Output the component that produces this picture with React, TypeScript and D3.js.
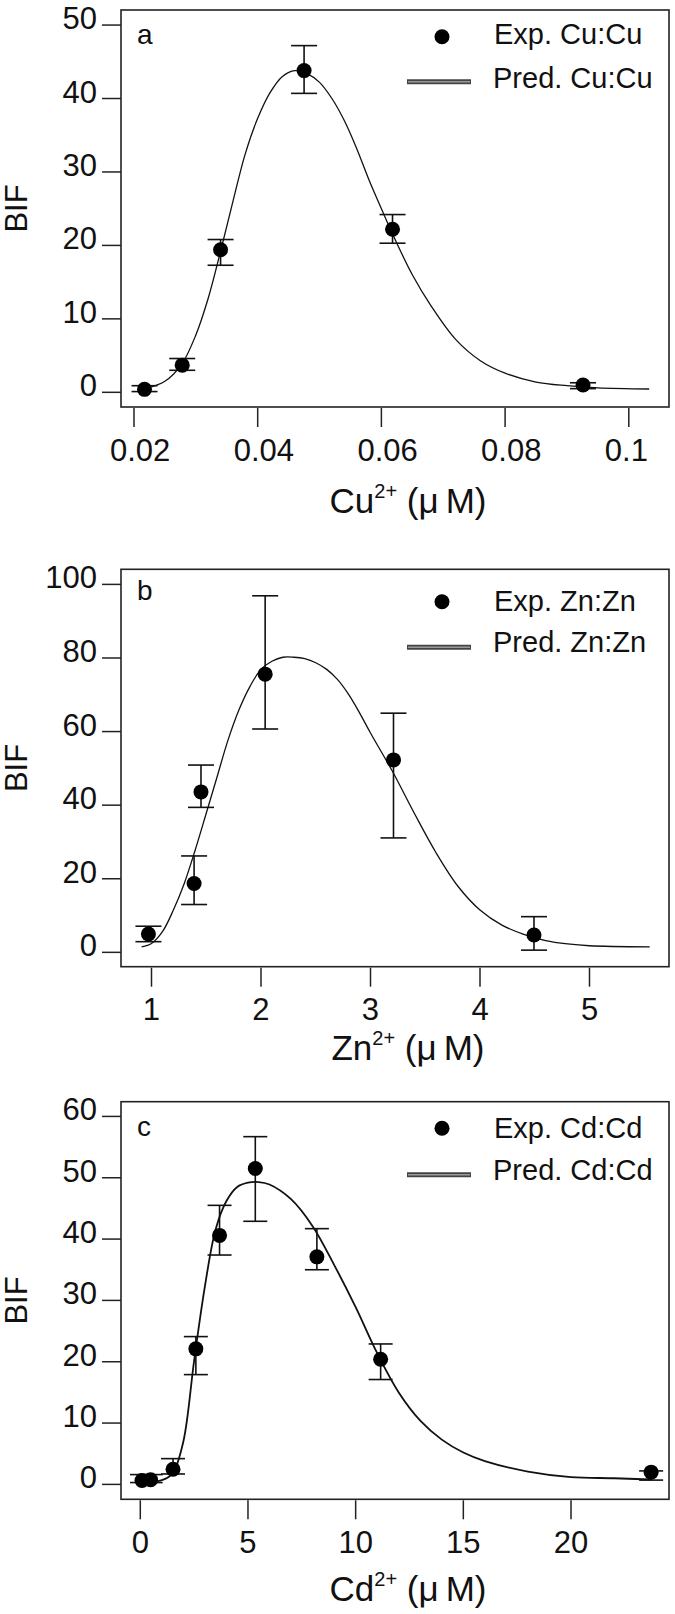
import React from 'react';
import * as d3 from 'd3';

// ---------- Panel a : Cu ----------
const cuX = [0.0217, 0.0278, 0.034, 0.0475, 0.0618, 0.0926];
const cuY = [0.4, 3.7, 19.4, 43.8, 22.2, 1.0];
const cuLo = [0.1, 3.0, 17.3, 40.7, 20.3, 0.5];
const cuHi = [0.9, 4.6, 20.8, 47.2, 24.2, 1.3];
const cuFitX = [0.0212, 0.0216, 0.025, 0.0277, 0.03, 0.032, 0.034, 0.036, 0.038, 0.04, 0.042, 0.044, 0.046, 0.048, 0.05, 0.052, 0.054, 0.056, 0.058, 0.06, 0.062, 0.065, 0.068, 0.072, 0.076, 0.08, 0.085, 0.09, 0.095, 0.1033];
const cuFitY = [0.3, 0.4, 1.5, 3.8, 7.8, 12.8, 19.2, 26.0, 32.5, 37.3, 40.8, 43.0, 43.8, 43.4, 42.2, 40.0, 37.0, 33.2, 28.9, 25.0, 21.2, 16.0, 11.8, 7.2, 4.3, 2.6, 1.4, 0.9, 0.6, 0.45];
const cuTicksX = [0.02, 0.04, 0.06, 0.08, 0.1];
const cuTickLabelsX = ['0.02', '0.04', '0.06', '0.08', '0.1'];
const cuTicksY = [0, 10, 20, 30, 40, 50];

// ---------- Panel b : Zn ----------
const znX = [0.972, 1.389, 1.452, 2.038, 3.21, 4.493];
const znY = [5.0, 18.7, 43.6, 75.6, 52.3, 4.7];
const znLo = [2.9, 13.0, 39.4, 60.7, 31.1, 0.6];
const znHi = [7.1, 26.2, 50.9, 96.9, 65.0, 9.7];
const znFitX = [0.91, 1.0, 1.1, 1.2, 1.3, 1.4, 1.5, 1.6, 1.7, 1.8, 1.9, 2.0, 2.1, 2.2, 2.3, 2.4, 2.5, 2.6, 2.7, 2.8, 2.9, 3.0, 3.2, 3.4, 3.6, 3.8, 4.0, 4.2, 4.4, 4.6, 4.8, 5.0, 5.55];
const znFitY = [1.5, 2.4, 5.6, 11.5, 18.8, 27.9, 37.8, 47.8, 57.8, 66.0, 72.3, 76.9, 79.1, 80.2, 80.2, 79.8, 78.7, 76.9, 74.1, 70.1, 65.1, 59.6, 49.2, 37.8, 27.0, 17.9, 11.5, 7.4, 4.9, 3.2, 2.3, 1.8, 1.5];
const znTicksX = [1, 2, 3, 4, 5];
const znTickLabelsX = ['1', '2', '3', '4', '5'];
const znTicksY = [0, 20, 40, 60, 80, 100];

// ---------- Panel c : Cd ----------
const cdX = [0.08, 0.48, 1.52, 2.58, 3.68, 5.34, 8.2, 11.16, 23.72];
const cdY = [0.63, 0.75, 2.48, 22.1, 40.6, 51.5, 37.1, 20.4, 2.0];
const cdLo = [0.3, 0.3, 1.7, 17.9, 37.4, 42.9, 35.0, 17.1, 0.7];
const cdHi = [1.6, 1.6, 4.2, 24.1, 45.5, 56.7, 41.7, 22.9, 2.2];
const cdFitX = [0.18, 1.0, 1.5, 2.0, 2.5, 3.0, 3.5, 4.0, 4.5, 5.0, 5.5, 6.0, 7.0, 8.0, 9.0, 10.0, 11.0, 12.0, 13.0, 14.0, 15.0, 16.0, 18.0, 20.0, 22.0, 23.7];
const cdFitY = [0.46, 0.7, 1.8, 7.0, 20.2, 32.3, 41.6, 46.2, 48.5, 49.2, 49.3, 48.9, 46.5, 42.1, 35.8, 28.9, 21.4, 15.0, 10.4, 7.3, 5.2, 3.8, 2.1, 1.2, 1.0, 0.8];
const cdTicksX = [0, 5, 10, 15, 20];
const cdTickLabelsX = ['0', '5', '10', '15', '20'];
const cdTicksY = [0, 10, 20, 30, 40, 50, 60];

const FONT = '"Liberation Sans", Arial, Helvetica, sans-serif';

type Panel = {
  letter: string; ion: string; expLabel: string; predLabel: string;
  x: number[]; y: number[]; lo: number[]; hi: number[];
  fitX: number[]; fitY: number[];
  ticksX: number[]; tickLabelsX: string[]; ticksY: number[];
  xDomain: [number, number]; yDomain: [number, number];
  top: number; bottom: number;
  capW: number; fitW: number;
  tickLabelStart: boolean;
  leg: { marker: number; exp: number; line: number; pred: number; letter: number };
  titleDy: number;
};

const panels: Panel[] = [
  {
    letter: 'a', ion: 'Cu', expLabel: 'Exp. Cu:Cu', predLabel: 'Pred. Cu:Cu',
    x: cuX, y: cuY, lo: cuLo, hi: cuHi, fitX: cuFitX, fitY: cuFitY,
    ticksX: cuTicksX, tickLabelsX: cuTickLabelsX, ticksY: cuTicksY,
    xDomain: [0.0179, 0.1065], yDomain: [-2.0, 52.05],
    top: 10, bottom: 407, capW: 13, fitW: 1.3, tickLabelStart: true,
    leg: { marker: 26.7, exp: 33.5, line: 71.7, pred: 78.3, letter: 34 },
    titleDy: 106,
  },
  {
    letter: 'b', ion: 'Zn', expLabel: 'Exp. Zn:Zn', predLabel: 'Pred. Zn:Zn',
    x: znX, y: znY, lo: znLo, hi: znHi, fitX: znFitX, fitY: znFitY,
    ticksX: znTicksX, tickLabelsX: znTickLabelsX, ticksY: znTicksY,
    xDomain: [0.7215, 5.726], yDomain: [-3.9, 104.1],
    top: 569.3, bottom: 966.7, capW: 13, fitW: 1.3, tickLabelStart: false,
    leg: { marker: 32.4, exp: 41.4, line: 78, pred: 82.4, letter: 30.7 },
    titleDy: 93.5,
  },
  {
    letter: 'c', ion: 'Cd', expLabel: 'Exp. Cd:Cd', predLabel: 'Pred. Cd:Cd',
    x: cdX, y: cdY, lo: cdLo, hi: cdHi, fitX: cdFitX, fitY: cdFitY,
    ticksX: cdTicksX, tickLabelsX: cdTickLabelsX, ticksY: cdTicksY,
    xDomain: [-0.896, 24.55], yDomain: [-2.43, 62.4],
    top: 1101.7, bottom: 1499.3, capW: 12, fitW: 1.8, tickLabelStart: false,
    leg: { marker: 26.5, exp: 36, line: 73, pred: 78.3, letter: 34.3 },
    titleDy: 102,
  },
];

const LEFT = 121;
const RIGHT = 669;

function PanelView({ p }: { p: Panel }) {
  const xs = d3.scaleLinear().domain(p.xDomain).range([LEFT, RIGHT]);
  const ys = d3.scaleLinear().domain(p.yDomain).range([p.bottom, p.top]);
  const line = d3.line<number>()
    .x((_, i) => xs(p.fitX[i]))
    .y((v) => ys(v))
    .curve(d3.curveCatmullRom.alpha(0.5));
  const path = line(p.fitY) || '';
  const midY = (p.top + p.bottom) / 2;
  const titleX = 408;
  return (
    <g>
      {/* frame */}
      <rect x={LEFT} y={p.top} width={RIGHT - LEFT} height={p.bottom - p.top}
        fill="none" stroke="#222" strokeWidth={1.6} />
      {/* y ticks */}
      {p.ticksY.map((t) => (
        <g key={'yt' + t}>
          <line x1={LEFT - 19} x2={LEFT} y1={ys(t)} y2={ys(t)} stroke="#222" strokeWidth={1.5} />
          <text x={LEFT - 24} y={ys(t) + 4} textAnchor="end" fontSize={31}
            fontFamily={FONT} fill="#111">{t}</text>
        </g>
      ))}
      {/* x ticks */}
      {p.ticksX.map((t, i) => (
        <g key={'xt' + t}>
          <line x1={xs(t)} x2={xs(t)} y1={p.bottom + 1} y2={p.bottom + 20} stroke="#222" strokeWidth={1.5} />
          <text x={p.tickLabelStart ? xs(t) - 24 : xs(t)} y={p.bottom + 53.5}
            textAnchor={p.tickLabelStart ? 'start' : 'middle'} fontSize={31}
            fontFamily={FONT} fill="#111">{p.tickLabelsX[i]}</text>
        </g>
      ))}
      {/* axis titles */}
      <text transform={`translate(27,${midY}) rotate(-90)`} textAnchor="middle"
        fontSize={31} fontFamily={FONT} fill="#111">BIF</text>
      <text x={titleX} y={p.bottom + p.titleDy} textAnchor="middle" fontSize={35}
        fontFamily={FONT} fill="#111">
        {p.ion}
        <tspan fontSize={20} dy={-15}>2+</tspan>
        <tspan dy={15}>{' (μ\u2009M)'}</tspan>
      </text>
      {/* fitted curve */}
      <path d={path} fill="none" stroke="#111" strokeWidth={p.fitW} />
      {/* error bars */}
      {p.x.map((xv, i) => (
        <g key={'eb' + i} stroke="#111" strokeWidth={1.6}>
          <line x1={xs(xv)} x2={xs(xv)} y1={ys(p.lo[i])} y2={ys(p.hi[i])} />
          <line x1={xs(xv) - p.capW} x2={xs(xv) + p.capW} y1={ys(p.lo[i])} y2={ys(p.lo[i])} />
          <line x1={xs(xv) - p.capW} x2={xs(xv) + p.capW} y1={ys(p.hi[i])} y2={ys(p.hi[i])} />
        </g>
      ))}
      {/* points */}
      {p.x.map((xv, i) => (
        <circle key={'pt' + i} cx={xs(xv)} cy={ys(p.y[i])} r={7.5} fill="#000" />
      ))}
      {/* panel letter */}
      <text x={137} y={p.top + p.leg.letter} fontSize={28} fontFamily={FONT} fill="#111">{p.letter}</text>
      {/* legend */}
      <circle cx={442} cy={p.top + p.leg.marker} r={7.5} fill="#000" />
      <text x={494} y={p.top + p.leg.exp} fontSize={29} fontFamily={FONT} fill="#111">{p.expLabel}</text>
      <line x1={407} x2={471} y1={p.top + p.leg.line} y2={p.top + p.leg.line} stroke="#444" strokeWidth={5} />
      <line x1={408} x2={470} y1={p.top + p.leg.line} y2={p.top + p.leg.line} stroke="#999" strokeWidth={1.4} />
      <text x={493} y={p.top + p.leg.pred} fontSize={29} fontFamily={FONT} fill="#111">{p.predLabel}</text>
    </g>
  );
}

export default function App() {
  return (
    <svg width={675} height={1614} viewBox="0 0 675 1614"
      style={{ position: 'absolute', left: 0, top: 0, background: '#fff' }}>
      <rect x={0} y={0} width={675} height={1614} fill="#fff" />
      {panels.map((p) => <PanelView key={p.letter} p={p} />)}
    </svg>
  );
}
